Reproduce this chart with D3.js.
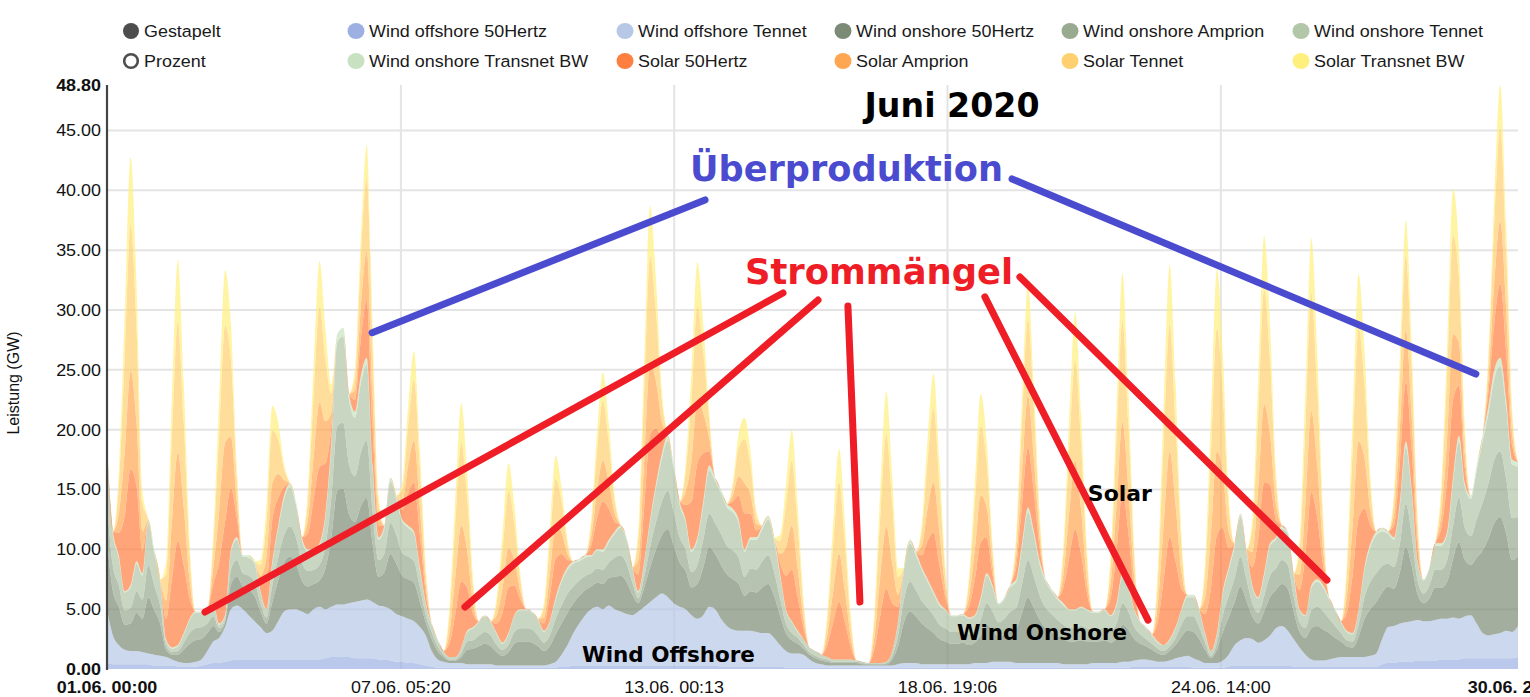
<!DOCTYPE html>
<html><head><meta charset="utf-8">
<script src="https://cdn.jsdelivr.net/npm/d3@7"></script>
<style>body{margin:0;background:#fff}svg{display:block}</style>
</head><body>
<svg id="chart" width="1530" height="697"></svg>
<script>
// ---------------- DATA (GW, 3-hourly from 01.06.2020 00:00, 8 values per day) ----------------
const seriesNames = ["Wind offshore 50Hertz","Wind offshore Tennet","Wind onshore 50Hertz","Wind onshore Amprion","Wind onshore Tennet","Wind onshore Transnet BW","Solar 50Hertz","Solar Amprion","Solar Tennet","Solar Transnet BW"];
const seriesColors = ["#9cb1e2","#b6c8e5","#7c8b75","#98aa90","#b2c6a8","#c8e2c1","#ff7f40","#ffa652","#ffd070","#fff07e"];

const windOffshore50Hertz = [
0.5,0.4,0.4,0.4,0.4,0.4,0.4,0.4, 0.3,0.3,0.3,0.3,0.2,0.2,0.2,0.2, 0.3,0.4,0.5,0.5,0.6,0.7,0.8,0.8,
0.8,0.8,0.8,0.8,0.8,0.8,0.8,0.8, 0.8,0.8,0.8,0.8,0.8,0.9,1.0,1.0, 1.0,1.0,0.9,0.9,0.9,0.9,0.8,0.8,
0.7,0.6,0.6,0.5,0.5,0.4,0.3,0.2, 0.1,0.1,0.1,0.1,0.1,0.1,0.1,0.1, 0.1,0.1,0.1,0.1,0.1,0.1,0.1,0.1,
0.1,0.1,0.1,0.1,0.1,0.2,0.2,0.3, 0.3,0.3,0.3,0.3,0.3,0.3,0.3,0.3, 0.3,0.3,0.3,0.3,0.3,0.3,0.3,0.3,
0.3,0.3,0.3,0.3,0.3,0.3,0.3,0.3, 0.2,0.2,0.2,0.2,0.2,0.2,0.2,0.2, 0.2,0.2,0.2,0.1,0.1,0.1,0.1,0.1,
0.1,0.1,0.1,0.1,0.1,0.1,0.1,0.1, 0.1,0.1,0.1,0.1,0.1,0.1,0.1,0.1, 0.1,0.1,0.1,0.1,0.1,0.1,0.1,0.1,
0.1,0.1,0.1,0.1,0.1,0.1,0.1,0.1, 0.1,0.1,0.1,0.1,0.1,0.1,0.1,0.1, 0.1,0.1,0.1,0.1,0.1,0.1,0.1,0.1,
0.1,0.1,0.1,0.1,0.1,0.1,0.2,0.2, 0.2,0.2,0.2,0.2,0.2,0.2,0.2,0.2, 0.1,0.1,0.1,0.1,0.1,0.1,0.2,0.3,
0.3,0.3,0.3,0.3,0.3,0.3,0.3,0.3, 0.3,0.2,0.2,0.2,0.2,0.2,0.2,0.2, 0.2,0.2,0.2,0.2,0.2,0.2,0.2,0.2,
0.4,0.5,0.5,0.6,0.6,0.6,0.7,0.7, 0.7,0.7,0.8,0.8,0.8,0.8,0.9,0.9, 0.9,0.9,0.9,0.9,0.9,0.9,0.9,1.0];

const windOffshoreTennet = [
4.5,2.4,1.6,1.2,1.1,1.1,1.0,0.9, 0.9,0.8,0.7,0.5,0.4,0.3,0.3,0.4, 0.5,1.1,1.8,2.1,2.9,4.3,4.5,4.2,
3.7,3.2,2.7,2.2,2.4,3.2,4.0,4.2, 4.2,4.0,3.8,4.2,4.4,4.1,4.2,4.4, 4.4,4.5,4.7,4.8,4.9,4.7,4.5,4.4,
4.3,4.0,3.8,3.7,3.5,3.1,2.5,1.3, 0.7,0.5,0.4,0.4,0.4,0.3,0.3,0.3, 0.3,0.3,0.2,0.2,0.2,0.2,0.2,0.2,
0.2,0.2,0.2,0.3,0.5,1.0,1.8,2.7, 3.5,4.2,4.7,4.9,4.7,5.0,4.7,4.5, 4.3,4.2,4.5,4.9,5.3,5.7,6.0,5.7,
5.2,4.9,4.7,4.2,3.9,4.2,4.9,4.7, 4.0,3.4,3.1,3.0,3.0,3.0,2.9,2.8, 2.8,2.4,1.8,1.4,1.2,1.2,1.1,0.7,
0.4,0.3,0.2,0.2,0.2,0.2,0.2,0.2, 0.2,0.2,0.2,0.2,0.2,0.2,0.3,0.4, 0.4,0.4,0.3,0.3,0.3,0.3,0.3,0.3,
0.3,0.3,0.3,0.4,0.4,0.4,0.5,0.5, 0.5,0.5,0.4,0.4,0.4,0.4,0.4,0.4, 0.4,0.4,0.3,0.3,0.3,0.3,0.3,0.4,
0.4,0.4,0.4,0.4,0.5,0.5,0.5,0.6, 0.6,0.5,0.4,0.4,0.5,0.7,0.8,0.9, 0.8,0.6,0.4,0.4,0.4,0.6,1.0,1.7,
2.1,2.3,2.2,1.9,2.1,2.5,3.1,3.3, 2.9,2.3,1.6,1.0,0.6,0.5,0.5,0.6, 0.7,0.8,0.8,0.8,0.8,0.8,0.9,1.1,
2.1,3.0,3.1,3.2,3.3,3.4,3.4,3.3, 3.3,3.4,3.4,3.4,3.5,3.4,3.5,3.6, 2.9,2.1,1.9,2.0,2.1,2.3,2.2,2.6];

const windOnshore50Hertz = [
5.7,3.7,3.2,2.1,2.3,3.2,2.8,4.7, 3.7,2.7,0.6,0.4,0.6,1.1,1.6,1.8, 1.7,1.5,1.3,0.5,0.4,2.1,2.4,1.9,
2.1,2.1,1.3,0.8,2.4,3.4,4.1,4.4, 3.8,2.6,2.3,2.1,2.2,3.4,5.8,9.5, 9.7,7.4,6.7,7.9,8.5,4.8,2.4,2.9,
4.6,4.2,3.4,3.3,3.2,2.1,1.1,1.0, 0.7,0.4,0.2,0.2,0.5,1.2,1.3,1.5, 1.7,1.5,1.1,0.8,1.1,1.8,2.0,2.0,
1.9,1.6,1.2,1.5,2.3,2.6,2.7,2.5, 2.3,2.1,1.9,2.0,2.1,2.3,2.7,3.0, 2.7,1.7,0.7,1.6,2.9,4.0,4.9,5.7,
4.8,3.7,3.2,2.3,2.9,4.0,5.0,4.6, 4.5,4.3,4.2,3.9,2.9,3.3,3.3,3.8, 4.1,3.5,2.5,1.5,1.1,0.8,0.5,0.4,
0.4,0.3,0.3,0.2,0.2,0.2,0.2,0.2, 0.1,0.1,0.1,0.1,0.1,0.5,1.5,3.4, 4.3,3.9,3.4,3.0,2.6,2.1,1.9,1.7,
1.7,1.8,1.6,1.7,2.3,3.2,2.7,2.1, 2.3,2.7,2.9,4.2,5.5,4.6,3.6,2.9, 2.6,2.3,2.1,1.9,1.9,2.0,1.9,1.8,
1.8,1.9,1.7,2.1,3.1,2.7,1.8,1.3, 1.1,0.9,0.7,0.6,0.8,1.1,1.7,2.1, 2.2,1.8,1.1,0.4,1.1,2.4,3.1,3.6,
4.5,3.1,1.9,1.6,2.4,3.2,3.2,3.5, 3.5,2.3,1.3,1.4,2.6,2.9,2.6,2.2, 1.7,1.3,0.9,0.8,1.7,3.2,3.9,4.3,
3.9,3.4,3.1,4.3,6.3,4.6,2.1,1.5, 1.9,2.7,2.6,3.1,4.9,6.4,4.7,4.2, 5.5,6.9,8.1,9.3,9.7,8.1,6.0,5.8];

const windOnshoreAmprion = [
3.2,2.1,1.8,1.2,1.3,1.8,1.6,2.7, 2.1,1.5,0.4,0.2,0.3,0.6,0.9,1.0, 1.0,0.8,0.8,0.3,0.2,1.2,1.4,1.1,
1.2,1.2,0.7,0.5,1.4,1.9,2.3,2.5, 2.2,1.5,1.3,1.2,1.3,1.9,3.3,5.4, 5.5,4.2,3.8,4.5,4.8,2.7,1.4,1.6,
2.6,2.4,1.9,1.9,1.8,1.2,0.6,0.6, 0.4,0.2,0.1,0.1,0.3,0.7,0.7,0.9, 1.0,0.9,0.6,0.5,0.6,1.0,1.1,1.1,
1.1,0.9,0.7,0.9,1.3,1.5,1.6,1.4, 1.3,1.2,1.1,1.2,1.2,1.3,1.6,1.7, 1.5,1.0,0.4,0.9,1.7,2.3,2.8,3.2,
2.8,2.1,1.8,1.3,1.6,2.3,2.8,2.6, 2.6,2.4,2.4,2.2,1.6,1.9,1.9,2.2, 2.4,2.0,1.4,0.8,0.6,0.5,0.3,0.2,
0.2,0.2,0.2,0.1,0.1,0.1,0.1,0.1, 0.1,0.0,0.0,0.0,0.1,0.3,0.9,1.9, 2.5,2.2,1.9,1.7,1.5,1.2,1.1,1.0,
1.0,1.0,0.9,1.0,1.3,1.8,1.5,1.2, 1.3,1.5,1.7,2.4,3.1,2.6,2.0,1.7, 1.5,1.3,1.2,1.1,1.1,1.2,1.1,1.0,
1.0,1.1,1.0,1.2,1.8,1.5,1.0,0.8, 0.6,0.5,0.4,0.3,0.4,0.6,1.0,1.2, 1.3,1.0,0.6,0.2,0.6,1.4,1.8,2.0,
2.5,1.8,1.1,0.9,1.3,1.8,1.8,2.0, 2.0,1.3,0.8,0.8,1.5,1.6,1.5,1.2, 1.0,0.7,0.5,0.5,1.0,1.8,2.3,2.4,
2.2,1.9,1.8,2.4,3.6,2.6,1.2,0.8, 1.1,1.5,1.5,1.8,2.8,3.7,2.7,2.4, 3.2,4.0,4.6,5.3,5.5,4.6,3.5,3.3];

const windOnshoreTennet = [
4.2,2.6,2.3,1.5,1.7,2.3,2.0,3.5, 2.7,2.0,0.4,0.3,0.4,0.7,1.1,1.3, 1.2,1.1,1.0,0.3,0.3,1.5,1.7,1.4,
1.5,1.5,0.9,0.6,1.8,2.5,3.0,3.3, 2.7,1.9,1.6,1.5,1.6,2.5,4.3,7.0, 7.2,5.4,4.9,5.8,6.3,3.6,1.7,2.1,
3.5,3.0,2.6,2.4,2.3,1.5,0.9,0.6, 0.5,0.3,0.2,0.2,0.5,0.8,1.0,1.1, 1.3,1.1,0.9,0.5,0.9,1.3,1.5,1.5,
1.4,1.3,0.9,1.1,1.6,2.0,2.0,1.9, 1.6,1.5,1.4,1.5,1.5,1.7,2.0,2.3, 2.0,1.2,0.5,1.2,2.1,2.9,3.6,4.2,
3.6,2.7,2.3,1.7,2.1,2.9,3.6,3.5, 3.4,3.2,3.2,2.9,2.1,2.4,2.5,2.7, 3.0,2.6,1.9,1.1,0.9,0.5,0.5,0.4,
0.4,0.3,0.2,0.2,0.2,0.2,0.2,0.1, 0.1,0.1,0.1,0.1,0.1,0.4,1.1,2.5, 3.2,2.9,2.6,2.2,1.8,1.6,1.5,1.3,
1.3,1.3,1.3,1.2,1.7,2.3,2.0,1.5, 1.6,2.0,2.2,3.1,4.0,3.5,2.6,2.2, 1.9,1.7,1.6,1.5,1.5,1.5,1.5,1.4,
1.4,1.4,1.2,1.5,2.3,2.0,1.4,1.0, 0.9,0.7,0.5,0.5,0.5,0.8,1.2,1.6, 1.6,1.4,0.7,0.4,0.7,1.8,2.2,2.6,
3.3,2.3,1.4,1.2,1.7,2.5,2.4,2.6, 2.6,1.7,1.0,1.0,1.9,2.1,2.0,1.6, 1.3,0.9,0.7,0.6,1.2,2.3,2.9,3.2,
2.9,2.5,2.3,3.2,4.7,3.5,1.5,1.1, 1.4,2.0,2.0,2.2,3.6,4.7,3.4,3.1, 4.1,5.1,5.9,6.8,7.1,6.0,4.5,4.2];

const windOnshoreTransnetBW = [
0.4,0.3,0.2,0.1,0.2,0.2,0.2,0.3, 0.3,0.2,0.1,0.1,0.1,0.1,0.1,0.1, 0.1,0.1,0.1,0.1,0.1,0.2,0.2,0.1,
0.2,0.2,0.1,0.1,0.2,0.2,0.3,0.3, 0.3,0.2,0.2,0.2,0.2,0.2,0.4,0.7, 0.7,0.5,0.5,0.6,0.6,0.3,0.2,0.2,
0.3,0.3,0.2,0.2,0.2,0.2,0.1,0.1, 0.1,0.0,0.0,0.0,0.0,0.1,0.1,0.1, 0.1,0.1,0.1,0.1,0.1,0.1,0.1,0.1,
0.1,0.1,0.1,0.1,0.2,0.2,0.2,0.2, 0.2,0.2,0.1,0.1,0.2,0.2,0.2,0.2, 0.2,0.1,0.1,0.1,0.2,0.3,0.4,0.4,
0.3,0.3,0.2,0.2,0.2,0.3,0.4,0.3, 0.3,0.3,0.3,0.3,0.2,0.2,0.2,0.3, 0.3,0.3,0.2,0.1,0.1,0.1,0.0,0.0,
0.0,0.0,0.0,0.0,0.0,0.0,0.0,0.0, 0.0,0.0,0.0,0.0,0.0,0.0,0.1,0.2, 0.3,0.3,0.2,0.2,0.2,0.2,0.1,0.1,
0.1,0.1,0.1,0.1,0.2,0.2,0.2,0.1, 0.2,0.2,0.2,0.3,0.4,0.3,0.3,0.2, 0.2,0.2,0.2,0.1,0.1,0.1,0.1,0.1,
0.1,0.1,0.1,0.2,0.2,0.2,0.1,0.1, 0.1,0.1,0.1,0.0,0.1,0.1,0.1,0.2, 0.2,0.1,0.1,0.0,0.1,0.2,0.2,0.3,
0.3,0.2,0.1,0.1,0.2,0.2,0.2,0.3, 0.2,0.2,0.1,0.1,0.2,0.2,0.2,0.2, 0.1,0.1,0.1,0.1,0.1,0.2,0.3,0.3,
0.3,0.2,0.2,0.3,0.5,0.3,0.1,0.1, 0.1,0.2,0.2,0.2,0.4,0.5,0.3,0.3, 0.4,0.5,0.6,0.7,0.7,0.6,0.4,0.4];

const solar50Hertz = [
0,0,1.9,6.3,9.7,6.3,1.9,0, 0,0,1.7,5.7,8.7,5.7,1.7,0, 0,0,1.6,5.1,7.8,5.1,1.6,0,
0,0,0.7,2.3,3.5,2.3,0.7,0, 0,0,1.3,4.2,6.4,4.2,1.3,0, 0,0,1.0,3.1,4.8,3.1,1.0,0,
0,0,0.8,2.7,4.1,2.7,0.8,0, 0,0,1.1,3.6,5.5,3.6,1.1,0, 0,0,0.8,2.5,3.8,2.5,0.8,0,
0,0,0.6,2.1,3.2,2.1,0.6,0, 0,0,0.8,2.6,4.0,2.6,0.8,0, 0,0,1.4,4.6,7.1,4.6,1.4,0,
0,0,1.2,4.0,6.2,4.0,1.2,0, 0,0,0.6,2.0,3.0,2.0,0.6,0, 0,0,0.9,2.8,4.3,2.8,0.9,0,
0,0,1.0,3.1,4.8,3.1,1.0,0, 0,0,1.2,4.0,6.1,4.0,1.2,0, 0,0,1.0,3.2,4.9,3.2,1.0,0,
0,0,0.9,3.0,4.6,3.0,0.9,0, 0,0,1.0,3.3,5.0,3.3,1.0,0, 0,0,1.3,4.4,6.7,4.4,1.3,0,
0,0,1.4,4.4,6.8,4.4,1.4,0, 0,0,1.7,5.5,8.5,5.5,1.7,0, 0,0,1.6,5.3,8.2,5.3,1.6,0,
0,0,1.5,4.9,7.6,4.9,1.5,0, 0,0,1.6,5.1,7.8,5.1,1.6,0, 0,0,1.5,4.9,7.6,4.9,1.5,0,
0,0,1.0,3.3,5.0,3.3,1.0,0, 0,0,1.3,4.2,6.5,4.2,1.3,0, 0,0,1.2,4.0,6.2,4.0,1.2,0];

const solarAmprion = [
0,0,1.6,5.3,8.2,5.3,1.6,0, 0,0,1.5,4.8,7.4,4.8,1.5,0, 0,0,1.3,4.3,6.6,4.3,1.3,0,
0,0,0.6,2.0,3.0,2.0,0.6,0, 0,0,1.1,3.5,5.4,3.5,1.1,0, 0,0,0.8,2.7,4.1,2.7,0.8,0,
0,0,0.7,2.3,3.5,2.3,0.7,0, 0,0,0.9,3.1,4.7,3.1,0.9,0, 0,0,0.7,2.1,3.3,2.1,0.7,0,
0,0,0.5,1.8,2.7,1.8,0.5,0, 0,0,0.7,2.2,3.4,2.2,0.7,0, 0,0,1.2,3.9,6.0,3.9,1.2,0,
0,0,1.1,3.4,5.3,3.4,1.1,0, 0,0,0.5,1.6,2.5,1.6,0.5,0, 0,0,0.7,2.4,3.7,2.4,0.7,0,
0,0,0.8,2.6,4.0,2.6,0.8,0, 0,0,1.0,3.4,5.2,3.4,1.0,0, 0,0,0.8,2.7,4.2,2.7,0.8,0,
0,0,0.8,2.5,3.9,2.5,0.8,0, 0,0,0.9,2.8,4.3,2.8,0.9,0, 0,0,1.1,3.7,5.7,3.7,1.1,0,
0,0,1.2,3.8,5.8,3.8,1.2,0, 0,0,1.4,4.7,7.2,4.7,1.4,0, 0,0,1.4,4.6,7.0,4.6,1.4,0,
0,0,1.3,4.2,6.5,4.2,1.3,0, 0,0,1.3,4.4,6.7,4.4,1.3,0, 0,0,1.3,4.2,6.4,4.2,1.3,0,
0,0,0.9,2.8,4.3,2.8,0.9,0, 0,0,1.1,3.6,5.5,3.6,1.1,0, 0,0,1.0,3.4,5.2,3.4,1.0,0];

const solarTennet = [
0,0,2.4,7.9,12.2,7.9,2.4,0, 0,0,2.2,7.1,10.9,7.1,2.2,0, 0,0,2.0,6.4,9.8,6.4,2.0,0,
0,0,0.9,2.9,4.4,2.9,0.9,0, 0,0,1.6,5.2,8.0,5.2,1.6,0, 0,0,1.2,4.0,6.1,4.0,1.2,0,
0,0,1.0,3.3,5.1,3.3,1.0,0, 0,0,1.4,4.5,6.9,4.5,1.4,0, 0,0,1.0,3.1,4.8,3.1,1.0,0,
0,0,0.8,2.6,4.0,2.6,0.8,0, 0,0,1.0,3.3,5.0,3.3,1.0,0, 0,0,1.8,5.8,8.9,5.8,1.8,0,
0,0,1.6,5.1,7.8,5.1,1.6,0, 0,0,0.7,2.4,3.7,2.4,0.7,0, 0,0,1.1,3.5,5.4,3.5,1.1,0,
0,0,1.2,3.9,6.0,3.9,1.2,0, 0,0,1.5,5.0,7.7,5.0,1.5,0, 0,0,1.2,4.0,6.2,4.0,1.2,0,
0,0,1.2,3.8,5.8,3.8,1.2,0, 0,0,1.3,4.2,6.4,4.2,1.3,0, 0,0,1.7,5.5,8.4,5.5,1.7,0,
0,0,1.7,5.5,8.5,5.5,1.7,0, 0,0,2.1,6.9,10.6,6.9,2.1,0, 0,0,2.1,6.7,10.3,6.7,2.1,0,
0,0,1.9,6.2,9.6,6.2,1.9,0, 0,0,2.0,6.4,9.9,6.4,2.0,0, 0,0,1.9,6.2,9.5,6.2,1.9,0,
0,0,1.3,4.1,6.3,4.1,1.3,0, 0,0,1.6,5.3,8.2,5.3,1.6,0, 0,0,1.6,5.1,7.8,5.1,1.6,0];

const solarTransnetBW = [
0,0,1.1,3.7,5.7,3.7,1.1,0, 0,0,1.0,3.4,5.2,3.4,1.0,0, 0,0,0.9,3.0,4.6,3.0,0.9,0,
0,0,0.4,1.4,2.1,1.4,0.4,0, 0,0,0.8,2.5,3.8,2.5,0.8,0, 0,0,0.6,1.8,2.8,1.8,0.6,0,
0,0,0.5,1.6,2.4,1.6,0.5,0, 0,0,0.7,2.1,3.3,2.1,0.7,0, 0,0,0.5,1.5,2.3,1.5,0.5,0,
0,0,0.4,1.2,1.9,1.2,0.4,0, 0,0,0.5,1.6,2.4,1.6,0.5,0, 0,0,0.8,2.7,4.2,2.7,0.8,0,
0,0,0.7,2.4,3.7,2.4,0.7,0, 0,0,0.4,1.2,1.8,1.2,0.4,0, 0,0,0.5,1.7,2.6,1.7,0.5,0,
0,0,0.6,1.8,2.8,1.8,0.6,0, 0,0,0.7,2.3,3.6,2.3,0.7,0, 0,0,0.6,1.9,2.9,1.9,0.6,0,
0,0,0.5,1.8,2.7,1.8,0.5,0, 0,0,0.6,2.0,3.0,2.0,0.6,0, 0,0,0.8,2.6,4.0,2.6,0.8,0,
0,0,0.8,2.6,4.0,2.6,0.8,0, 0,0,1.0,3.3,5.0,3.3,1.0,0, 0,0,1.0,3.2,4.9,3.2,1.0,0,
0,0,0.9,2.9,4.5,2.9,0.9,0, 0,0,0.9,3.0,4.6,3.0,0.9,0, 0,0,0.9,2.9,4.5,2.9,0.9,0,
0,0,0.6,1.9,2.9,1.9,0.6,0, 0,0,0.8,2.5,3.9,2.5,0.8,0, 0,0,0.7,2.3,3.6,2.3,0.7,0];

const seriesValues = [windOffshore50Hertz, windOffshoreTennet, windOnshore50Hertz, windOnshoreAmprion, windOnshoreTennet, windOnshoreTransnetBW, solar50Hertz, solarAmprion, solarTennet, solarTransnetBW];

const startTime = "2020-06-01T00:00:00Z";
const stepHours = 3;
const yTickValues = [0, 5, 10, 15, 20, 25, 30, 35, 40, 45, 48.8];
const yMax = 48.8;
const xTickLabels = ["01.06. 00:00", "07.06. 05:20", "13.06. 00:13", "18.06. 19:06", "24.06. 14:00", "30.06. 21:00"];

// annotations: [hours since start, GW]
const blueLines = [[[134.7, 28.1], [303.9, 39.2]], [[459.9, 40.95], [695.6, 24.65]]];
const redLines = [[[49.8, 4.76], [343.5, 31.42]], [[181.9, 5.18], [361.3, 30.83]], [[376.5, 30.33], [382.6, 5.6]], [[446.1, 31.09], [529.0, 4.09]], [[463.9, 32.76], [619.9, 7.44]]];
const annotationTexts = [
  {text: "Juni 2020", at: [429.4, 46.1], color: "#000", size: 33, len: 175},
  {text: "Überproduktion", at: [375.8, 40.75], color: "#4a4bcf", size: 35, len: 313},
  {text: "Strommängel", at: [392.3, 32.2], color: "#ee1d26", size: 35, len: 268},
  {text: "Solar", at: [514.7, 14.05], color: "#000", size: 21, len: 64},
  {text: "Wind Onshore", at: [475.1, 2.4], color: "#000", size: 21, len: 170},
  {text: "Wind Offshore", at: [285.3, 0.6], color: "#000", size: 21, len: 173}
];

// ---------------- DRAWING ----------------
const svg = d3.select("#chart");
const t0 = new Date(startTime).getTime();
const hourMs = 3600 * 1000;
const n = windOffshore50Hertz.length;
const keys = seriesNames;
const rows = d3.range(n).map(i => {
  const r = {time: new Date(t0 + i * stepHours * hourMs)};
  keys.forEach((k, j) => r[k] = seriesValues[j][i]);
  return r;
});

const pLeft = 107, pRight = 1518, pTop = 85, pBottom = 669;
const x = d3.scaleUtc().domain([rows[0].time, rows[n - 1].time]).range([pLeft, pRight]);
const y = d3.scaleLinear().domain([0, yMax]).range([pBottom, pTop]);
const hx = h => x(new Date(t0 + h * hourMs));

const parseTick = d3.utcParse("%d.%m. %H:%M %Y");
const xTicks = xTickLabels.map(s => parseTick(s + " 2020"));

// grid
const grid = svg.append("g");
grid.selectAll("line.h").data(yTickValues.filter(v => v > 0 && v < yMax)).join("line")
  .attr("x1", pLeft).attr("x2", pRight).attr("y1", d => y(d)).attr("y2", d => y(d))
  .attr("stroke", "#e4e4e4").attr("stroke-width", 2);
grid.selectAll("line.v").data(xTicks.slice(1, -1)).join("line")
  .attr("x1", d => x(d)).attr("x2", d => x(d)).attr("y1", pTop).attr("y2", pBottom)
  .attr("stroke", "#e4e4e4").attr("stroke-width", 2);

// stacked areas
const stacked = d3.stack().keys(keys)(rows);
const area = d3.area().x(d => x(d.data.time)).y0(d => y(d[0])).y1(d => y(d[1])).curve(d3.curveMonotoneX);
svg.append("g").selectAll("path").data(stacked).join("path")
  .attr("d", area).attr("fill", (d, i) => seriesColors[i]).attr("fill-opacity", 0.7);

// y axis line
svg.append("line").attr("x1", pLeft).attr("x2", pLeft).attr("y1", pTop).attr("y2", pBottom + 1)
  .attr("stroke", "#444").attr("stroke-width", 2.2);

const font = "'Liberation Sans', Arial, sans-serif";
function sText(g, px, py, str, anchor, weight, size) {
  return g.append("text").attr("transform", `translate(${px},${py}) scale(1.1,1)`)
    .attr("text-anchor", anchor).attr("font-family", font).attr("font-size", size || 16.3)
    .attr("font-weight", weight || "normal").attr("fill", "#111").text(str);
}

// y tick labels
const yl = svg.append("g");
yTickValues.forEach((v, i) => {
  sText(yl, 101, y(v) + 6, d3.format(".2f")(v), "end", (i === 0 || i === yTickValues.length - 1) ? "bold" : "normal");
});
// x tick labels
const xl = svg.append("g");
xTicks.forEach((t, i) => {
  sText(xl, x(t), 693, xTickLabels[i], "middle", (i === 0 || i === xTicks.length - 1) ? "bold" : "normal");
});
// y axis title
svg.append("text").attr("transform", "translate(19,383) rotate(-90)").attr("text-anchor", "middle")
  .attr("font-family", font).attr("font-size", 16).attr("fill", "#111").text("Leistung (GW)");

// legend
const legCols = [131, 356, 625, 843, 1070, 1301];
const legRows = [31, 61];
const leg = svg.append("g");
const legItems = [
  {label: "Gestapelt", kind: "on"}, {label: seriesNames[0], c: 0}, {label: seriesNames[1], c: 1}, {label: seriesNames[2], c: 2}, {label: seriesNames[3], c: 3}, {label: seriesNames[4], c: 4},
  {label: "Prozent", kind: "off"}, {label: seriesNames[5], c: 5}, {label: seriesNames[6], c: 6}, {label: seriesNames[7], c: 7}, {label: seriesNames[8], c: 8}, {label: seriesNames[9], c: 9}
];
legItems.forEach((it, i) => {
  const cx = legCols[i % 6], cy = legRows[Math.floor(i / 6)];
  if (it.kind === "on") leg.append("circle").attr("cx", cx).attr("cy", cy).attr("r", 8).attr("fill", "#4d4d4d");
  else if (it.kind === "off") leg.append("circle").attr("cx", cx).attr("cy", cy).attr("r", 6.8).attr("fill", "#fff").attr("stroke", "#4d4d4d").attr("stroke-width", 2.6);
  else leg.append("ellipse").attr("cx", cx).attr("cy", cy).attr("rx", 8.5).attr("ry", 8).attr("fill", seriesColors[it.c]);
  sText(leg, cx + 13, cy + 6, it.label, "start", "normal", 16.3).attr("fill", "#1a1a1a");
});

// annotation lines
const ann = svg.append("g");
blueLines.forEach(l => ann.append("line").attr("x1", hx(l[0][0])).attr("y1", y(l[0][1])).attr("x2", hx(l[1][0])).attr("y2", y(l[1][1]))
  .attr("stroke", "#4a4bcf").attr("stroke-width", 7).attr("stroke-linecap", "round"));
redLines.forEach(l => ann.append("line").attr("x1", hx(l[0][0])).attr("y1", y(l[0][1])).attr("x2", hx(l[1][0])).attr("y2", y(l[1][1]))
  .attr("stroke", "#ee1d26").attr("stroke-width", 7).attr("stroke-linecap", "round"));
annotationTexts.forEach(a => ann.append("text").attr("x", hx(a.at[0])).attr("y", y(a.at[1]))
  .attr("text-anchor", "middle").attr("font-family", "'DejaVu Sans', Verdana, sans-serif").attr("font-weight", "bold")
  .attr("font-size", a.size).attr("fill", a.color).attr("textLength", a.len).attr("lengthAdjust", "spacingAndGlyphs").text(a.text));
</script>
</body></html>
